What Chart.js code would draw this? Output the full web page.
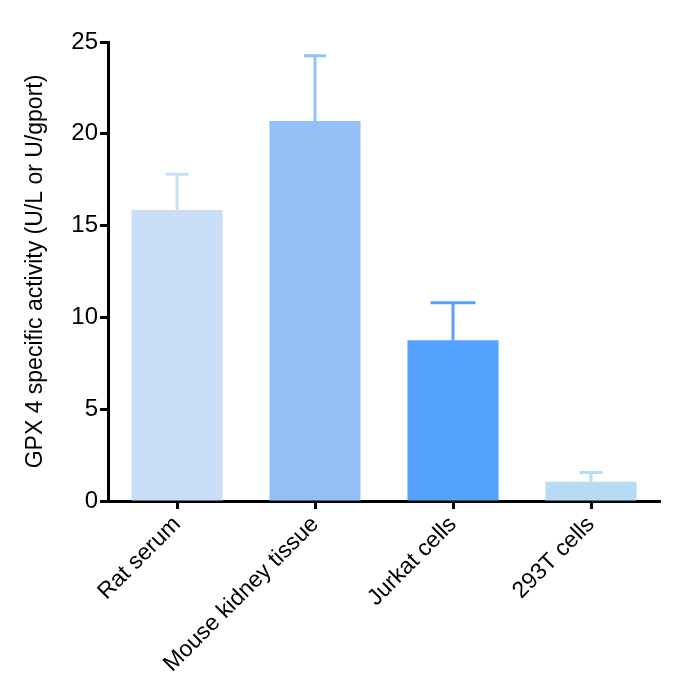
<!DOCTYPE html>
<html>
<head>
<meta charset="utf-8">
<script src="https://cdn.jsdelivr.net/npm/chart.js@4"></script>
<style>
  html, body { margin: 0; padding: 0; background: #fff; }
  #wrap { width: 674px; height: 699px; }
</style>
</head>
<body>
<div id="wrap"><canvas id="gpx-chart"></canvas></div>
<script>
const categories = ['Rat serum', 'Mouse kidney tissue', 'Jurkat cells', '293T cells'];
const activity = [15.85, 20.7, 8.75, 1.05];
const errorUp = [1.95, 3.55, 2.05, 0.5];
const yTicks = [0, 5, 10, 15, 20, 25];

const barColors = ['#c9dff8', '#94c0f8', '#55a2fe', '#b5dcf2'];

// simple upward error bars with caps
const errorBars = {
    id: 'errorBars',
    afterDatasetsDraw(chart, args, opts) {
        const ctx = chart.ctx;
        const y = chart.scales.y;
        const meta = chart.getDatasetMeta(0);
        ctx.save();
        ctx.lineWidth = 3;
        meta.data.forEach((bar, i) => {
            const top = y.getPixelForValue(activity[i]);
            const end = y.getPixelForValue(activity[i] + errorUp[i]);
            const half = opts.capWidths[i] / 2;
            ctx.strokeStyle = barColors[i];
            ctx.beginPath();
            ctx.moveTo(bar.x, top);
            ctx.lineTo(bar.x, end);
            ctx.moveTo(bar.x - half, end);
            ctx.lineTo(bar.x + half, end);
            ctx.stroke();
        });
        ctx.restore();
    }
};

const font = 'Liberation Sans, Arial, Helvetica, sans-serif';

new Chart(document.getElementById('gpx-chart'), {
    type: 'bar',
    data: {
        labels: categories,
        datasets: [{
            data: activity,
            backgroundColor: barColors,
            barPercentage: 0.66,
            categoryPercentage: 1
        }]
    },
    options: {
        responsive: true,
        maintainAspectRatio: false,
        animation: false,
        layout: { padding: { top: 42, right: 14, left: 0, bottom: 0 } },
        plugins: {
            legend: { display: false },
            tooltip: { enabled: false },
            errorBars: { capWidths: [23, 22, 45, 23] }
        },
        scales: {
            x: {
                afterFit(scale) { scale.height = 198; },
                grid: { display: true, drawOnChartArea: false, offset: false, tickLength: 8, tickWidth: 3, tickColor: '#000' },
                border: { display: true, width: 3, color: '#000' },
                ticks: { color: '#000', font: { family: font, size: 23 }, minRotation: 45, maxRotation: 45, padding: 2 }
            },
            y: {
                min: 0,
                max: 25,
                afterFit(scale) { scale.width = 108; },
                afterBuildTicks(scale) { scale.ticks = yTicks.map(v => ({ value: v })); },
                grid: { display: true, drawOnChartArea: false, tickLength: 8, tickWidth: 3, tickColor: '#000' },
                border: { display: true, width: 3, color: '#000' },
                ticks: { color: '#000', font: { family: font, size: 24 }, padding: 2 },
                title: {
                    display: true,
                    text: 'GPX 4 specific activity (U/L or U/gport)',
                    color: '#000',
                    font: { family: font, size: 23 },
                    padding: { top: 22, bottom: 0 }
                }
            }
        }
    },
    plugins: [errorBars]
});
</script>
</body>
</html>
